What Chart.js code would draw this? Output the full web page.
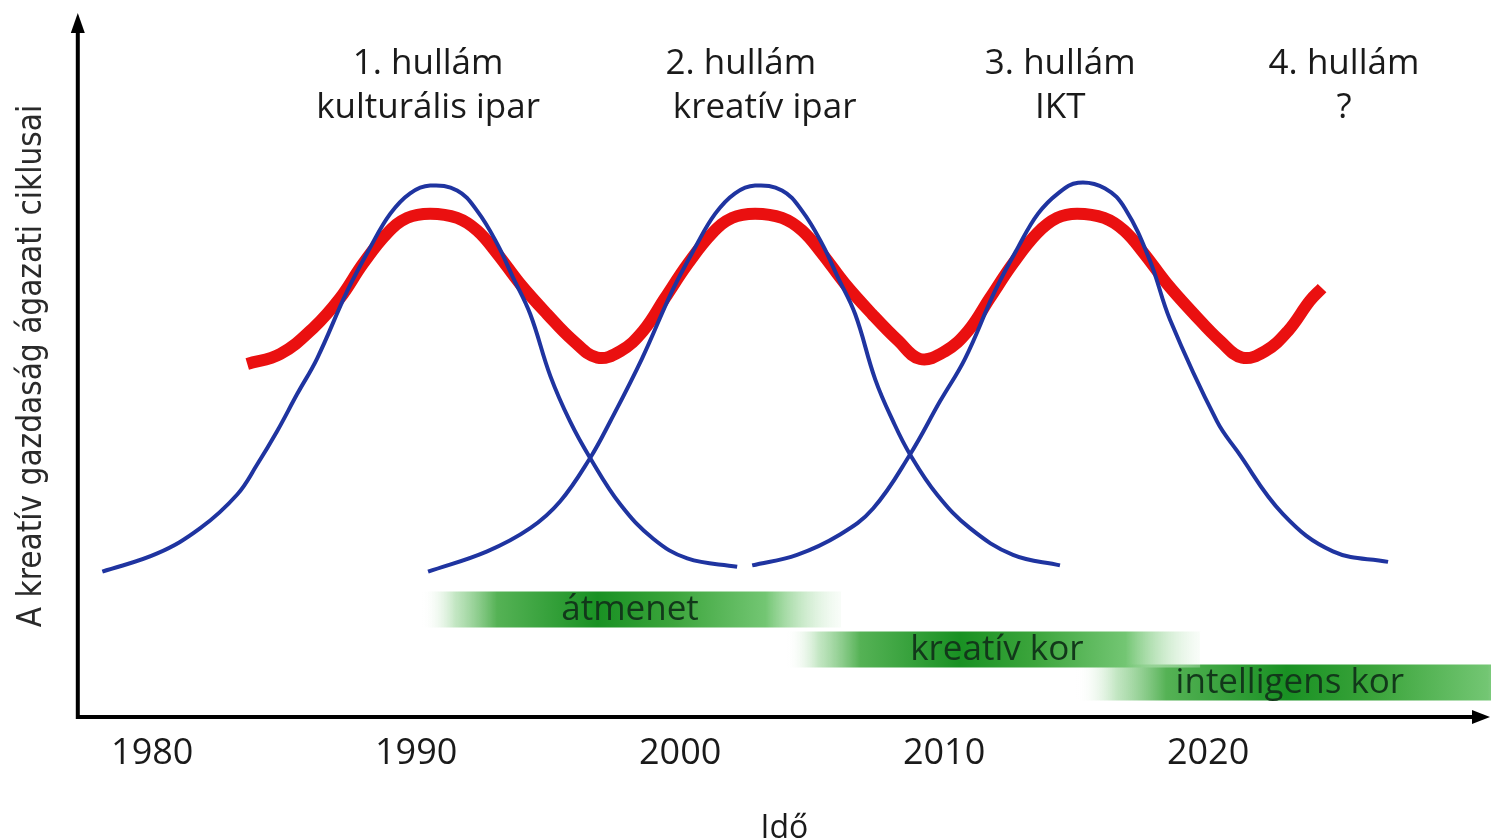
<!DOCTYPE html>
<html>
<head>
<meta charset="utf-8">
<script src="https://cdn.jsdelivr.net/npm/chart.js@4.4.1/dist/chart.umd.min.js"></script>
<style>
  html, body { margin: 0; padding: 0; background: #fff; }
  #wrap { width: 1491px; height: 840px; }
</style>
</head>
<body>
<div id="wrap"><canvas id="myChart"></canvas></div>
<script>
// x = year, y = arbitrary level (0..100)
var tickYears = [1980, 1990, 2000, 2010, 2020];

// 1. hullam (blue bell)
var wave1X = [1978.11, 1980.19, 1981.82, 1983.22, 1983.98, 1984.73, 1985.49, 1986.25, 1987.39, 1988.26, 1989.02, 1989.77, 1990.53, 1991.55, 1992.31, 1993.07, 1993.67, 1994.32, 1995.08, 1995.83, 1996.59, 1997.73, 1998.98, 2000.27, 2002.16];
var wave1Y = [20.7, 23.3, 26.9, 31.7, 36.0, 40.7, 46.0, 51.1, 60.7, 66.9, 71.7, 74.6, 75.7, 75.0, 72.1, 67.4, 62.6, 57.4, 48.6, 42.1, 36.9, 30.3, 25.4, 22.6, 21.4];
// 2. hullam
var wave2X = [1990.45, 1992.69, 1994.32, 1995.45, 1996.59, 1997.35, 1998.56, 1999.70, 2000.57, 2001.33, 2002.08, 2002.84, 2003.86, 2004.62, 2005.38, 2005.98, 2006.63, 2007.39, 2008.07, 2008.71, 2009.73, 2010.98, 2012.61, 2014.39];
var wave2Y = [20.7, 23.6, 26.9, 30.7, 36.9, 42.1, 51.1, 60.7, 66.9, 71.7, 74.6, 75.7, 75.0, 72.1, 67.4, 62.6, 57.4, 48.1, 42.1, 37.4, 31.7, 26.9, 23.1, 21.6];
// 3. hullam
var wave3X = [2002.73, 2004.43, 2006.06, 2007.31, 2008.71, 2009.85, 2010.80, 2011.93, 2012.80, 2013.56, 2014.32, 2015.08, 2016.10, 2016.86, 2017.80, 2018.56, 2020.34, 2021.10, 2022.84, 2024.73, 2026.82];
var wave3Y = [21.6, 23.1, 26.0, 29.7, 37.4, 45.0, 51.1, 60.7, 66.9, 71.7, 74.6, 76.1, 75.3, 72.4, 65.0, 56.6, 42.1, 37.9, 28.9, 23.6, 22.1];
// red cycle line
var cycleX = [1983.60, 1984.85, 1986.10, 1987.12, 1987.99, 1988.90, 1989.66, 1990.53, 1991.55, 1992.31, 1993.07, 1993.94, 1994.96, 1995.95, 1996.86, 1997.73, 1998.60,
              1999.43, 2000.30, 2001.21, 2001.97, 2002.84, 2003.86, 2004.62, 2005.38, 2006.25, 2007.27, 2008.26, 2009.09, 2010.04, 2010.91,
              2011.74, 2012.61, 2013.52, 2014.28, 2015.04, 2016.06, 2016.82, 2017.58, 2018.45, 2019.47, 2020.45, 2021.29, 2022.16, 2023.03, 2023.86, 2024.32];
var cycleY = [50.3, 51.7, 55.4, 59.7, 64.6, 68.9, 71.1, 71.7, 71.1, 69.3, 66.0, 61.7, 57.4, 53.6, 51.2, 52.1, 55.0,
              59.7, 64.6, 68.9, 71.1, 71.7, 71.1, 69.3, 66.0, 61.7, 57.4, 53.6, 51.0, 52.1, 55.0,
              59.7, 64.6, 68.9, 71.1, 71.7, 71.1, 69.3, 66.0, 61.7, 57.4, 53.6, 51.2, 52.1, 55.0, 59.3, 61.1];

// green phase bands
var phaseNames = ["átmenet", "kreatív kor", "intelligens kor"];
var phaseStart = [1990.2, 2004.0, 2015.0];
var phaseEnd = [2006.1, 2019.7, 2034.0];
var phaseLevel = [15.3, 9.6, 4.9];
var phaseLabelX = [1998.1, 2012.0, 2023.1];

// wave titles
var waveTitles = ["1. hullám", "2. hullám", "3. hullám", "4. hullám"];
var waveSubtitles = ["kulturális ipar", "kreatív ipar", "IKT", "?"];
var waveTitleX = [1990.45, 2002.3, 2014.4, 2025.15];
var waveSubX = [1990.45, 2003.2, 2014.4, 2025.15];

function pts(xs, ys) {
    return xs.map(function (x, i) { return {x: x, y: ys[i]}; });
}

function phaseColor(i) {
    return function (c) {
        var chart = c.chart;
        if (!chart.chartArea) return 'rgba(40,160,50,0.8)';
        var sx = chart.scales.x;
        var x0 = sx.getPixelForValue(phaseStart[i]);
        var x1 = sx.getPixelForValue(phaseEnd[i]);
        var g = chart.ctx.createLinearGradient(x0, 0, x1, 0);
        g.addColorStop(0, 'rgba(255,255,255,0)');
        g.addColorStop(0.08, 'rgba(170,220,170,0.7)');
        g.addColorStop(0.18, 'rgb(85,178,85)');
        g.addColorStop(0.42, 'rgb(25,145,35)');
        g.addColorStop(0.6, 'rgb(60,165,60)');
        g.addColorStop(0.82, 'rgb(115,198,115)');
        g.addColorStop(1, 'rgba(235,248,235,0.3)');
        return g;
    };
}

var datasets = [];
[[wave1X, wave1Y], [wave2X, wave2Y], [wave3X, wave3Y]].forEach(function (w) {
    datasets.push({
        data: pts(w[0], w[1]),
        borderColor: '#1f34a0',
        borderWidth: 4,
        tension: 0.4,
        pointRadius: 0,
        order: 0
    });
});
datasets.push({
    data: pts(cycleX, cycleY),
    borderColor: '#ea1010',
    borderWidth: 12,
    borderCapStyle: 'butt',
    tension: 0.4,
    pointRadius: 0,
    order: 1
});
phaseNames.forEach(function (n, i) {
    datasets.push({
        data: [{x: phaseStart[i], y: phaseLevel[i]}, {x: phaseEnd[i], y: phaseLevel[i]}],
        borderColor: phaseColor(i),
        borderWidth: 36,
        borderCapStyle: 'butt',
        pointRadius: 0,
        order: 2
    });
});

var extras = {
    id: 'extras',
    afterDatasetsDraw: function (chart) {
        var c = chart.ctx, a = chart.chartArea;
        var sx = chart.scales.x, sy = chart.scales.y;
        c.save();
        // axes with arrows
        c.strokeStyle = '#000';
        c.fillStyle = '#000';
        c.lineWidth = 4;
        c.beginPath();
        c.moveTo(a.left, a.bottom + 2);
        c.lineTo(a.left, a.top + 14);
        c.moveTo(a.left - 2, a.bottom);
        c.lineTo(a.right - 14, a.bottom);
        c.stroke();
        c.beginPath();
        c.moveTo(a.left, a.top - 2);
        c.lineTo(a.left - 7, a.top + 18);
        c.lineTo(a.left + 7, a.top + 18);
        c.closePath();
        c.fill();
        c.beginPath();
        c.moveTo(a.right - 1, a.bottom);
        c.lineTo(a.right - 19, a.bottom - 7);
        c.lineTo(a.right - 19, a.bottom + 7);
        c.closePath();
        c.fill();

        c.textAlign = 'center';
        c.textBaseline = 'middle';
        c.font = '35px "Open Sans"';
        c.fillStyle = '#1a1a1a';
        waveTitles.forEach(function (t, i) {
            c.fillText(t, sx.getPixelForValue(waveTitleX[i]), sy.getPixelForValue(93.0));
            c.fillText(waveSubtitles[i], sx.getPixelForValue(waveSubX[i]), sy.getPixelForValue(86.8));
        });
        c.fillStyle = '#12381a';
        phaseNames.forEach(function (t, i) {
            c.fillText(t, sx.getPixelForValue(phaseLabelX[i]), sy.getPixelForValue(phaseLevel[i]));
        });
        c.restore();
    }
};

var ctx = document.getElementById('myChart');
var myChart = new Chart(ctx, {
    type: 'line',
    data: { datasets: datasets },
    options: {
        responsive: true,
        maintainAspectRatio: false,
        animation: false,
        layout: { padding: { left: 5, right: 0, top: 15, bottom: 0 } },
        plugins: { legend: { display: false }, tooltip: { enabled: false } },
        scales: {
            x: {
                type: 'linear',
                min: 1977.18,
                max: 2030.72,
                afterBuildTicks: function (axis) {
                    axis.ticks = tickYears.map(function (v) { return {value: v}; });
                },
                grid: { display: false, drawTicks: false },
                border: { display: false },
                ticks: {
                    padding: 15.4,
                    color: '#1a1a1a',
                    font: { family: '"Open Sans"', size: 36 },
                    callback: function (v) { return String(v); }
                },
                title: {
                    display: true,
                    text: 'Idő',
                    color: '#1a1a1a',
                    font: { family: '"Open Sans"', size: 32 },
                    padding: { top: 18.6, bottom: -8 }
                }
            },
            y: {
                type: 'linear',
                min: 0,
                max: 100,
                grid: { display: false, drawTicks: false },
                border: { display: false },
                ticks: { display: false },
                title: {
                    display: true,
                    text: 'A kreatív gazdaság ágazati ciklusai',
                    color: '#2a2a2a',
                    font: { family: '"Liberation Sans Narrow", "DejaVu Sans Condensed", "Roboto", sans-serif', size: 33 },
                    padding: { top: 7.6, bottom: 25.6 }
                }
            }
        }
    },
    plugins: [extras]
});
</script>
</body>
</html>
